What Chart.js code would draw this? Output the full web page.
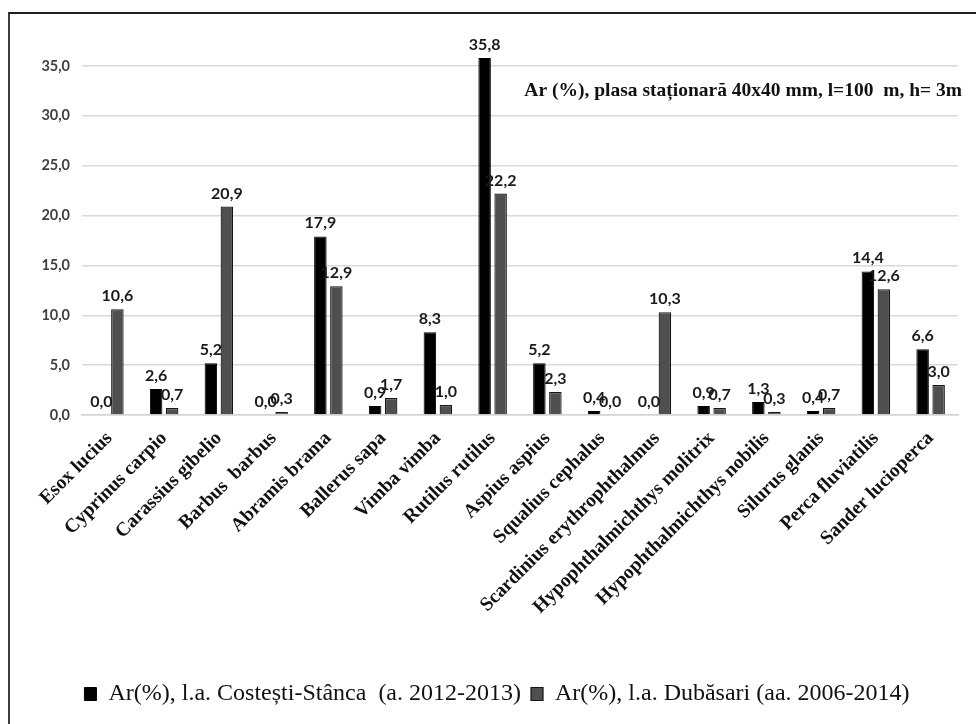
<!DOCTYPE html>
<html>
<head>
<meta charset="utf-8">
<script src="https://cdn.jsdelivr.net/npm/chart.js@4"></script>
<style>
  html, body { margin: 0; padding: 0; background: #fff; }
  #wrap { position: relative; width: 976px; height: 724px; background: #fff; }
  #frame { position: absolute; left: 8px; top: 12px; right: 0; bottom: 0;
           border-left: 2px solid #3c3c3c; border-top: 2px solid #1e1e1e; pointer-events: none; }
</style>
</head>
<body>
<div id="wrap">
  <canvas id="chart" width="976" height="724"></canvas>
  <div id="frame"></div>
</div>
<script>
// species (x categories)
const categories = [
  "Esox lucius", "Cyprinus carpio", "Carassius gibelio", "Barbus  barbus",
  "Abramis brama", "Ballerus sapa", "Vimba vimba", "Rutilus rutilus",
  "Aspius aspius", "Squalius cephalus", "Scardinius erythrophthalmus",
  "Hypophthalmichthys molitrix", "Hypophthalmichthys nobilis", "Silurus glanis",
  "Perca fluviatilis", "Sander lucioperca"
];
const seriesNames = [
  "Ar(%), l.a. Costești-Stânca  (a. 2012-2013)",
  "Ar(%), l.a. Dubăsari (aa. 2006-2014)"
];
// Ar (%) values
const costestiValues = [0.0, 2.6, 5.2, 0.0, 17.9, 0.9, 8.3, 35.8, 5.2, 0.4, 0.0, 0.9, 1.3, 0.4, 14.4, 6.6];
const dubasariValues = [10.6, 0.7, 20.9, 0.3, 12.9, 1.7, 1.0, 22.2, 2.3, 0.0, 10.3, 0.7, 0.3, 0.7, 12.6, 3.0];
const yTickValues = [0, 5, 10, 15, 20, 25, 30, 35];
const noteText = "Ar (%), plasa staționară 40x40 mm, l=100  m, h= 3m";

const fmt = (v) => v.toFixed(1).replace(".", ",");

// value labels above every bar
const barLabels = {
  id: "barLabels",
  afterDatasetsDraw(chart) {
    const ctx = chart.ctx;
    ctx.save();
    ctx.font = "bold 16px Lato";
    ctx.fillStyle = "#1a1a1a";
    ctx.textAlign = "center";
    ctx.textBaseline = "alphabetic";
    chart.data.datasets.forEach((ds, i) => {
      chart.getDatasetMeta(i).data.forEach((bar, j) => {
        ctx.fillText(fmt(ds.data[j]), bar.x, bar.y - 8);
      });
    });
    ctx.restore();
  }
};

// the text note in the upper right of the plot
const note = {
  id: "note",
  afterDraw(chart) {
    const { ctx, chartArea } = chart;
    ctx.save();
    ctx.font = "bold 19.5px 'Liberation Serif'";
    ctx.fillStyle = "#111";
    ctx.textAlign = "right";
    ctx.textBaseline = "alphabetic";
    ctx.fillText(noteText, chartArea.right + 4, chartArea.top + 60);
    ctx.restore();
  }
};

new Chart(document.getElementById("chart"), {
  type: "bar",
  data: {
    labels: categories,
    datasets: [
      {
        label: seriesNames[0],
        data: costestiValues,
        backgroundColor: "#000000",
        borderColor: "#000000",
        borderWidth: 1,
        categoryPercentage: 0.585,
        barPercentage: 0.78
      },
      {
        label: seriesNames[1],
        data: dubasariValues,
        backgroundColor: "#4f4f4f",
        borderColor: "#161616",
        borderWidth: 1.2,
        categoryPercentage: 0.585,
        barPercentage: 0.78
      }
    ]
  },
  options: {
    responsive: false,
    animation: false,
    layout: { padding: { left: 36, right: 18, top: 36, bottom: 8 } },
    plugins: {
      tooltip: { enabled: false },
      legend: {
        position: "bottom",
        labels: {
          color: "#111",
          font: { family: "'Liberation Serif'", size: 24 },
          boxWidth: 12,
          boxHeight: 13,
          padding: 10
        }
      }
    },
    scales: {
      x: {
        grid: { display: false, drawTicks: false },
        border: { color: "#d4d4d4", width: 1.5 },
        ticks: {
          color: "#111",
          font: { family: "'Liberation Serif'", size: 19.5, weight: "bold" },
          minRotation: 45,
          maxRotation: 45,
          padding: 12,
          autoSkip: false
        },
        afterFit(scale) { scale.height = 257; }
      },
      y: {
        min: 0,
        max: 38,
        grid: { color: "#d9d9d9", lineWidth: 1.5, drawTicks: false },
        border: { display: false },
        ticks: {
          color: "#404040",
          font: { family: "Lato", size: 14.5, weight: "bold" },
          padding: 12,
          callback: (v) => fmt(v)
        },
        afterBuildTicks(scale) { scale.ticks = yTickValues.map((v) => ({ value: v })); },
        afterFit(scale) { scale.width = 46; }
      }
    }
  },
  plugins: [barLabels, note]
});
</script>
</body>
</html>
